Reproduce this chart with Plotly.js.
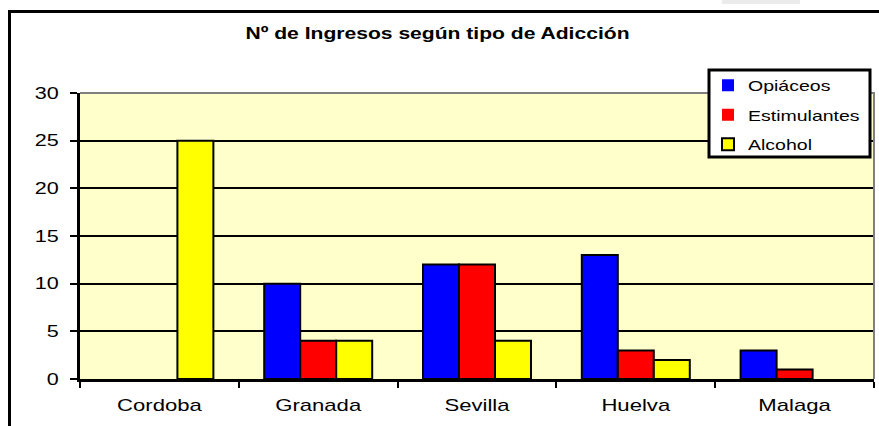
<!DOCTYPE html>
<html>
<head>
<meta charset="utf-8">
<script src="https://cdn.plot.ly/plotly-3.0.1.min.js"></script>
<style>
  html, body { margin: 0; padding: 0; background: #ffffff; overflow: hidden; }
  #wrap { position: relative; width: 879px; height: 426px; overflow: hidden; }
  #chart { width: 879px; height: 426px; }
  #frame {
    position: absolute; left: 8px; top: 10px; width: 900px; height: 440px;
    border-left: 3px solid #000000; border-top: 3px solid #000000;
    pointer-events: none; box-sizing: border-box;
  }
</style>
</head>
<body>
<div id="wrap">
  <div id="chart"></div>
  <div id="frame"></div>
</div>
<script>
// ---- data ----
const categories = ['Cordoba', 'Granada', 'Sevilla', 'Huelva', 'Malaga'];
const seriesNames = ['Opiáceos', 'Estimulantes', 'Alcohol'];
const opiaceos = [0, 10, 12, 13, 3];
const estimulantes = [0, 4, 12, 3, 1];
const alcohol = [25, 4, 4, 2, 0];
const yTickVals = [0, 5, 10, 15, 20, 25, 30];
const chartTitle = 'Nº de Ingresos según tipo de Adicción';

// ---- layout constants (pixels) ----
const W = 879, H = 426;
const L = 80, R = 5, T = 93, B = 47;
const pw = W - L - R, ph = H - T - B;
const px = x => (x - L) / pw;          // pixel x -> paper
const py = y => (H - B - y) / ph;      // pixel y -> paper

const FONT = 'Liberation Sans, Arial, sans-serif';
const colors = ['#0000FF', '#FF0000', '#FFFF00'];
const values = [opiaceos, estimulantes, alcohol];

const traces = values.map((v, i) => ({
  type: 'bar',
  name: seriesNames[i],
  x: categories,
  y: v,
  legendgroup: 'g' + i,
  marker: {
    color: colors[i],
    line: { color: '#000000', width: v.map(val => (val === 0 ? 0 : 2)) }
  },
  hoverinfo: 'x+y+name'
}));

const layout = {
  width: W, height: H,
  margin: { l: L, r: R, t: T, b: B, pad: 0 },
  paper_bgcolor: '#FFFFFF',
  plot_bgcolor: '#FFFFCC',
  barmode: 'group',
  bargap: 0.32,
  bargroupgap: 0,
  showlegend: true,
  title: {
    text: chartTitle,
    font: { family: FONT, size: 17, color: '#000000', weight: 'bold' },
    x: 437.5 / W, xanchor: 'center', xref: 'container',
    y: 1 - 33 / H, yanchor: 'middle', yref: 'container'
  },
  xaxis: {
    type: 'category',
    tickson: 'boundaries',
    ticks: 'outside', ticklen: 6, tickwidth: 2, tickcolor: '#000000',
    showline: true, linecolor: '#000000', linewidth: 3,
    showgrid: false, zeroline: false,
    ticklabelstandoff: 9,
    tickfont: { family: FONT, size: 17, color: '#000000' },
    fixedrange: true
  },
  yaxis: {
    range: [0, 30],
    tickvals: yTickVals,
    ticktext: yTickVals.map(String),
    ticks: 'outside', ticklen: 7, tickwidth: 2, tickcolor: '#000000',
    showline: true, linecolor: '#000000', linewidth: 3,
    showgrid: true, gridcolor: '#000000', gridwidth: 2,
    zeroline: false,
    ticklabelstandoff: 8,
    tickfont: { family: FONT, size: 16, color: '#000000' },
    fixedrange: true
  },
  legend: {
    x: px(708), xanchor: 'left',
    y: py(69), yanchor: 'top',
    bgcolor: 'rgba(0,0,0,0)',
    borderwidth: 0,
    tracegroupgap: 7,
    font: { family: FONT, size: 15, color: '#000000' }
  },
  shapes: [
    // faint grey element at the top edge
    { type: 'rect', xref: 'paper', yref: 'paper', layer: 'below',
      x0: px(722), x1: px(800), y0: py(4), y1: py(-2),
      line: { width: 0 }, fillcolor: '#ebebeb' },
    // grey plot-area border (top and right)
    { type: 'path', xref: 'paper', yref: 'paper', layer: 'above',
      path: 'M0,1 L1,1 L1,0',
      line: { color: '#808080', width: 2 } },
    // legend box
    { type: 'rect', xref: 'paper', yref: 'paper', layer: 'above',
      x0: px(709), x1: px(870), y0: py(157), y1: py(70),
      line: { color: '#000000', width: 3 }, fillcolor: '#FFFFFF' }
  ]
};

function stretch(sel, f) {
  document.querySelectorAll(sel).forEach(t => {
    const len = t.getComputedTextLength();
    if (len > 0) {
      t.setAttribute('textLength', (len * f).toFixed(1));
      t.setAttribute('lengthAdjust', 'spacingAndGlyphs');
    }
  });
}

Plotly.newPlot('chart', traces, layout, { displayModeBar: false, staticPlot: true, responsive: false })
  .then(() => {
    stretch('#chart .xtick text', 1.3);
    stretch('#chart .ytick text', 1.35);
    stretch('#chart .legendtext', 1.3);
    stretch('#chart .gtitle', 1.24);
    document.querySelectorAll('#chart .legend [clip-path]').forEach(el => el.removeAttribute('clip-path'));
  });
</script>
</body>
</html>
